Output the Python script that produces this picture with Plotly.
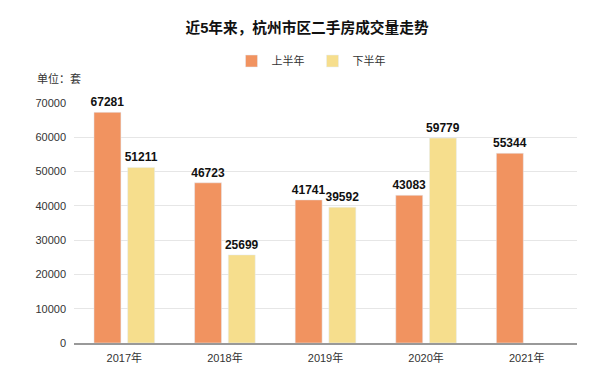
import plotly.graph_objects as go

years = ["2017年", "2018年", "2019年", "2020年", "2021年"]
first_half = [67281, 46723, 41741, 43083, 55344]
second_half = [51211, 25699, 39592, 59779, None]
y_ticks = [0, 10000, 20000, 30000, 40000, 50000, 60000, 70000]
y_tick_labels = ["0", "10000", "20000", "30000", "40000", "50000", "60000", "70000"]

FONT = "Liberation Sans, Noto Sans CJK SC, sans-serif"


def labels(vals):
    return ["" if v is None else f"<b>{v}</b>" for v in vals]


fig = go.Figure()
fig.add_trace(go.Bar(
    name="上半年", x=years, y=first_half, marker_color="#F19360",
    text=labels(first_half), textposition="outside", cliponaxis=False,
    texttemplate="%{text}", constraintext="none",
    textfont=dict(family=FONT, size=12, color="#111111"),
))
fig.add_trace(go.Bar(
    name="下半年", x=years, y=second_half, marker_color="#F6DE8D",
    text=labels(second_half), textposition="outside", cliponaxis=False,
    texttemplate="%{text}", constraintext="none",
    textfont=dict(family=FONT, size=12, color="#111111"),
))

fig.update_layout(
    width=608, height=389,
    margin=dict(l=74, r=31, t=103, b=46, autoexpand=False),
    paper_bgcolor="white", plot_bgcolor="white",
    font=dict(family=FONT, size=11, color="#333333"),
    barmode="group", bargap=0.33, bargroupgap=0.2,
    title=dict(text="<b>近5年来，杭州市区二手房成交量走势</b>", x=0.505, xanchor="center",
               xref="container", yref="container",
               y=1 - 28 / 389, yanchor="middle", font=dict(size=14.7, color="#111111", family=FONT)),
    legend=dict(orientation="h", xref="container", x=0.514, xanchor="center",
                y=1.175, yanchor="middle",
                font=dict(size=11, color="#333333"), traceorder="normal",
                entrywidth=36, itemwidth=30),
    showlegend=True,
)
fig.update_yaxes(range=[0, 70000], tickvals=y_ticks, ticktext=y_tick_labels,
                 showgrid=True, gridcolor="#E6E6E6",
                 zeroline=False, showline=False, ticks="", tickfont=dict(size=11, color="#333333"),
                 ticklabelstandoff=7, automargin=False)
fig.update_xaxes(showline=True, linecolor="#999999", linewidth=1.5, ticks="",
                 tickfont=dict(size=11, color="#333333"), ticklabelstandoff=4, automargin=False)
fig.add_annotation(text="单位：套", xref="paper", yref="paper", x=-0.078, y=1.104,
                   xanchor="left", yanchor="middle", showarrow=False,
                   font=dict(size=11, color="#333333"))
fig.write_html("out.html", config={"displayModeBar": False},
               post_script="document.body.style.margin='0';")
